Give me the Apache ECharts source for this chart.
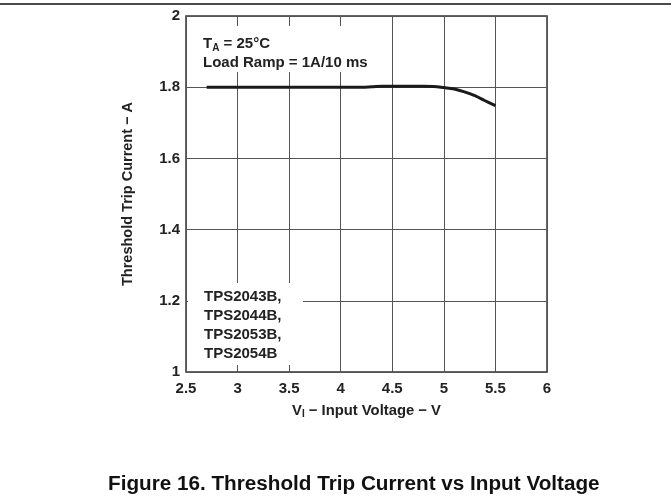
<!DOCTYPE html>
<html><head><meta charset="utf-8">
<script src="https://cdn.jsdelivr.net/npm/echarts@6/dist/echarts.min.js"></script>
<style>html,body{margin:0;padding:0;background:#fff}#c{width:671px;height:499px}</style>
</head><body><div id="c"></div>
<script>
const voltage = [2.7, 3.0, 3.5, 4.0, 4.2, 4.3, 4.4, 4.6, 4.8, 4.9, 5.0, 5.1, 5.2, 5.3, 5.4, 5.5];
const current = [1.800, 1.800, 1.800, 1.800, 1.800, 1.801, 1.8025, 1.8025, 1.8025, 1.802, 1.799, 1.795, 1.787, 1.776, 1.762, 1.748];
const xTicks = [2.5, 3, 3.5, 4, 4.5, 5, 5.5, 6];
const yTicks = [1, 1.2, 1.4, 1.6, 1.8, 2];
const conditionLines = ['{t|T}{sub|A}{t| = 25°C}', '{t|Load Ramp = 1A/10 ms}'];
const deviceLines = ['TPS2043B,', 'TPS2044B,', 'TPS2053B,', 'TPS2054B'];
const captionText = 'Figure 16. Threshold Trip Current vs Input Voltage';

const FONT = '"Liberation Sans", Arial, sans-serif';
const chart = echarts.init(document.getElementById('c'), null, {renderer: 'canvas'});
const txt = '#222';
chart.setOption({
  animation: false,
  title: {
    text: captionText, left: 103, top: 469,
    textStyle: {fontFamily: FONT, fontWeight: 'bold', fontSize: 20.7, color: '#111'}
  },
  grid: {left: 186, top: 16, width: 361, height: 356, show: true, borderColor: '#333', borderWidth: 1.5, backgroundColor: 'transparent'},
  xAxis: {
    type: 'value', min: 2.5, max: 6, interval: 0.5,
    name: '{t|V}{sub|I}{t| − Input Voltage − V}', nameLocation: 'middle', nameGap: 30,
    nameTextStyle: {fontFamily: FONT, fontWeight: 'bold', fontSize: 14.8, color: txt,
      rich: {t: {fontFamily: FONT, fontWeight: 'bold', fontSize: 14.8, color: txt},
             sub: {fontFamily: FONT, fontWeight: 'bold', fontSize: 10, color: txt, verticalAlign: 'bottom', padding: [7,0,0,0]}}},
    axisLine: {show: false}, axisTick: {show: false},
    axisLabel: {fontFamily: FONT, fontWeight: 'bold', fontSize: 15, color: txt, margin: 9,
      formatter: v => xTicks.includes(v) ? String(v) : ''},
    splitLine: {show: true, lineStyle: {color: '#555', width: 1}}
  },
  yAxis: {
    type: 'value', min: 1, max: 2, interval: 0.2,
    name: 'Threshold Trip Current − A', nameLocation: 'middle', nameGap: 51,
    nameTextStyle: {fontFamily: FONT, fontWeight: 'bold', fontSize: 14.5, color: txt},
    axisLine: {show: false}, axisTick: {show: false},
    axisLabel: {fontFamily: FONT, fontWeight: 'bold', fontSize: 15, color: txt, margin: 6,
      formatter: v => { const t = yTicks.find(k => Math.abs(k - v) < 1e-6); return t === undefined ? '' : String(t); }},
    splitLine: {show: true, lineStyle: {color: '#555', width: 1}}
  },
  graphic: [
    {type: 'line', shape: {x1: 0, y1: 4, x2: 671, y2: 4}, style: {stroke: '#111', lineWidth: 1.5}},
    {type: 'rect', shape: {x: 188, y: 26, width: 186, height: 46}, style: {fill: '#fff'}, z: 10},
    {type: 'text', left: 203, top: 34, z: 11, style: {
      text: conditionLines.join('\n'), lineHeight: 19.5,
      fontFamily: FONT, fontWeight: 'bold', fontSize: 15, fill: txt,
      rich: {t: {fontFamily: FONT, fontWeight: 'bold', fontSize: 15, fill: txt, lineHeight: 19.5},
             sub: {fontFamily: FONT, fontWeight: 'bold', fontSize: 10, fill: txt, verticalAlign: 'bottom', padding: [7,0,0,0], lineHeight: 19.5}}
    }},
    {type: 'rect', shape: {x: 188, y: 283, width: 115, height: 82}, style: {fill: '#fff'}, z: 10},
    {type: 'text', left: 204, top: 287, z: 11, style: {
      text: deviceLines.join('\n'), lineHeight: 19,
      fontFamily: FONT, fontWeight: 'bold', fontSize: 15, fill: txt
    }}
  ],
  series: [{
    type: 'line', data: voltage.map((v, i) => [v, current[i]]),
    smooth: 0.4, showSymbol: false, symbol: 'none',
    lineStyle: {color: '#1a1a1a', width: 3}, z: 20
  }]
});
</script></body></html>
